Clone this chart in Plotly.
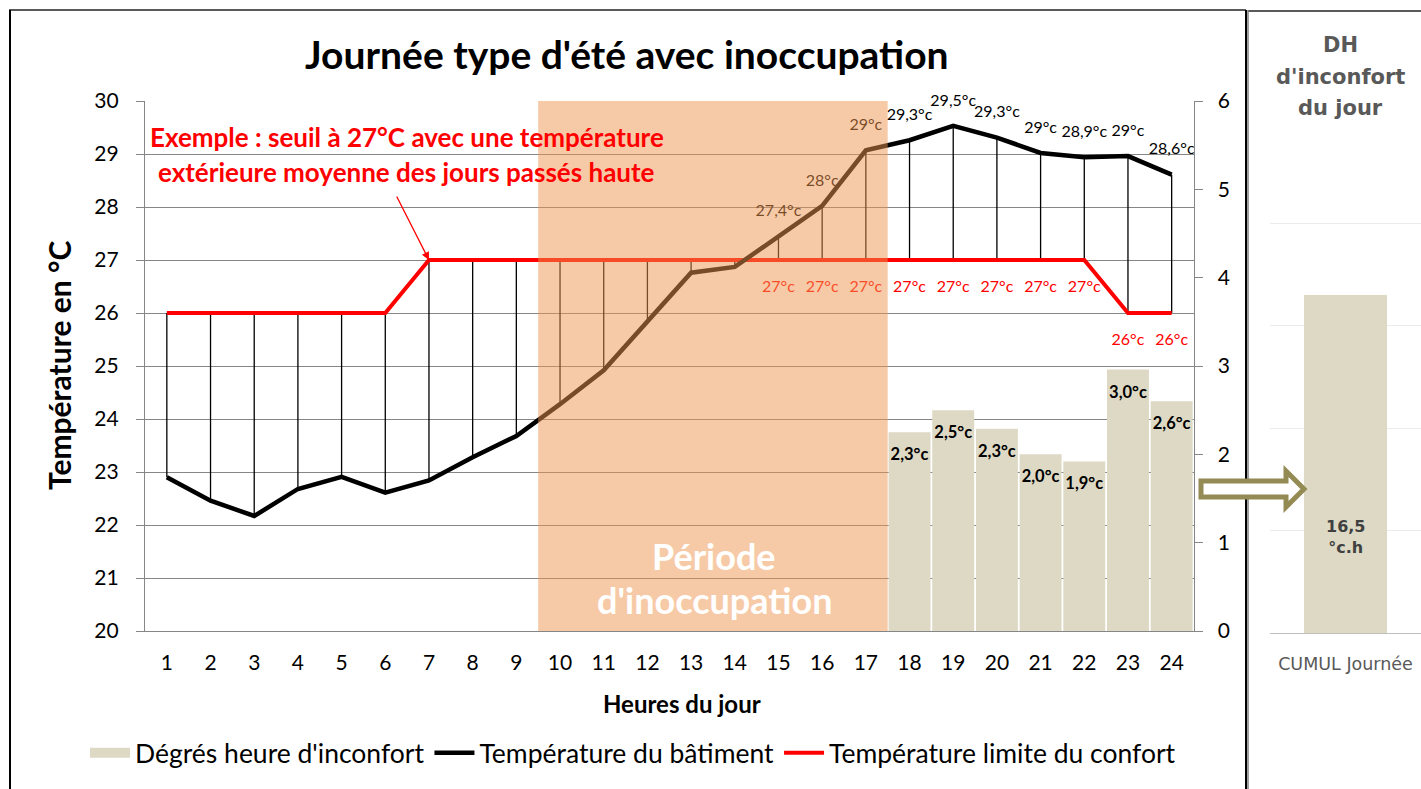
import plotly.graph_objects as go

# ---------------- data ----------------
heures = list(range(1, 25))
temp_batiment = [22.9, 22.46, 22.17, 22.68, 22.91, 22.61, 22.84, 23.28, 23.68, 24.28,
                 24.92, 25.84, 26.76, 26.87, 27.45, 28.02, 29.07, 29.26, 29.53, 29.31,
                 29.02, 28.94, 28.96, 28.61]
temp_limite = [26, 26, 26, 26, 26, 26, 27, 27, 27, 27, 27, 27, 27, 27, 27, 27, 27, 27,
               27, 27, 27, 27, 26, 26]
heures_dh = [18, 19, 20, 21, 22, 23, 24]
degres_heure = [2.25, 2.5, 2.29, 2.0, 1.92, 2.96, 2.6]
labels_dh = ["2,3°c", "2,5°c", "2,3°c", "2,0°c", "1,9°c", "3,0°c", "2,6°c"]
heures_labels = [15, 16, 17, 18, 19, 20, 21, 22, 23, 24]
labels_temp = ["27,4°c", "28°c", "29°c", "29,3°c", "29,5°c", "29,3°c", "29°c", "28,9°c",
               "29°c", "28,6°c"]
labels_limite = ["27°c", "27°c", "27°c", "27°c", "27°c", "27°c", "27°c", "27°c", "26°c", "26°c"]
periode_inoccupation = [10, 17]
cumul_categorie = ["CUMUL Journée"]
cumul_valeur = [16.5]
cumul_label = "16,5<br>°c.h"

W, H = 1421, 789
FONT = "Lato"
WIDE = "DejaVu Sans"
BAR_COLOR = "#DDD9C4"
def X(p):
    return p / W
def Y(p):
    return 1 - p / H

fig = go.Figure()

# drop lines between threshold and building temperature
dx, dy = [], []
for h, t, s in zip(heures, temp_batiment, temp_limite):
    dx += [h, h, None]
    dy += [s, t, None]
fig.add_trace(go.Scatter(x=dx, y=dy, mode="lines", line=dict(color="black", width=1.3),
                         showlegend=False, hoverinfo="skip"))

fig.add_trace(go.Bar(x=heures_dh, y=degres_heure, yaxis="y2", marker_color=BAR_COLOR,
                     marker_line_width=0, name="Dégrés heure d'inconfort", showlegend=False))
# legend entry for the bars (wide block symbol)
fig.add_trace(go.Scatter(x=[None], y=[None], mode="lines", line=dict(color=BAR_COLOR, width=18),
                         name="Dégrés heure d'inconfort", legendrank=1))
fig.add_trace(go.Scatter(x=[h for h in heures_dh], y=[v - 0.27 for v in degres_heure],
                         yaxis="y2", mode="text", text=labels_dh, cliponaxis=False,
                         textfont=dict(family=FONT, size=16.5, color="black", weight="bold"),
                         showlegend=False, hoverinfo="skip"))

fig.add_trace(go.Scatter(x=heures, y=temp_limite, mode="lines",
                         line=dict(color="#FF0000", width=4),
                         name="Température limite du confort", legendrank=3))
fig.add_trace(go.Scatter(x=heures, y=temp_batiment, mode="lines",
                         line=dict(color="black", width=4.5),
                         name="Température du bâtiment", legendrank=2))

idx = [heures.index(h) for h in heures_labels]
fig.add_trace(go.Scatter(x=heures_labels, y=[temp_batiment[i] + 0.46 for i in idx],
                         mode="text", text=labels_temp, cliponaxis=False,
                         textfont=dict(family=FONT, size=16, color="black"),
                         showlegend=False, hoverinfo="skip"))
fig.add_trace(go.Scatter(x=heures_labels, y=[temp_limite[i] - 0.53 for i in idx],
                         mode="text", text=labels_limite, cliponaxis=False,
                         textfont=dict(family=FONT, size=16, color="#FF0000"),
                         showlegend=False, hoverinfo="skip"))

# right panel
fig.add_trace(go.Bar(x=cumul_categorie, y=cumul_valeur, xaxis="x2", yaxis="y3",
                     marker_color=BAR_COLOR, marker_line_width=0, width=0.55,
                     showlegend=False))

tickfont = dict(family=FONT, size=21, color="black")
fig.update_layout(
    width=W, height=H, autosize=False,
    margin=dict(l=0, r=0, t=0, b=0, autoexpand=False),
    paper_bgcolor="white", plot_bgcolor="rgba(0,0,0,0)",
    font=dict(family=FONT, color="black"),
    bargap=0.04,
    xaxis=dict(domain=[X(145), X(1193.5)], range=[0.5, 24.5], tickmode="array",
               tickvals=heures, ticktext=[str(h) for h in heures], showgrid=False,
               showline=True, linecolor="#868686", linewidth=1.3, ticks="",
               tickfont=tickfont, ticklabelstandoff=13, zeroline=False, automargin=False),
    yaxis=dict(domain=[Y(631), Y(101)], range=[20, 30], dtick=1, showgrid=True,
               gridcolor="#868686", gridwidth=1.3, showline=True, linecolor="#868686",
               linewidth=1.3, ticks="outside", ticklen=8, tickcolor="#868686",
               tickfont=tickfont, ticklabelstandoff=13, zeroline=False, automargin=False),
    yaxis2=dict(overlaying="y", side="right", range=[0, 6], dtick=1, showgrid=False,
                showline=True, linecolor="#868686", linewidth=1.3, ticks="outside",
                ticklen=8, tickcolor="#868686", tickfont=tickfont, ticklabelstandoff=11,
                zeroline=False, automargin=False),
    xaxis2=dict(domain=[X(1270), 1.0], anchor="y3", showgrid=False, showline=True,
                linecolor="#BFBFBF", linewidth=1.3, ticks="",
                tickfont=dict(family=WIDE, size=17.5, color="#595959"),
                ticklabelstandoff=15, automargin=False),
    yaxis3=dict(domain=[Y(633), Y(121)], anchor="x2", range=[0, 25], dtick=5,
                showgrid=True, gridcolor="#EBEBEB", gridwidth=1, showticklabels=False,
                zeroline=False, showline=False, automargin=False),
    legend=dict(orientation="h", x=X(633), xanchor="center", y=Y(753), yanchor="middle",
                font=dict(family=FONT, size=26.5, color="black"), traceorder="normal",
                bgcolor="rgba(0,0,0,0)", itemwidth=40),
    showlegend=True,
)

x0 = periode_inoccupation[0] - 0.5
x1 = periode_inoccupation[1] + 0.5
shapes = [
    dict(type="rect", xref="x", yref="y", x0=x0, x1=x1, y0=20, y1=30,
         fillcolor="#F09650", opacity=0.5, line=dict(width=0), layer="above"),
    # borders
    dict(type="line", xref="paper", yref="paper", x0=X(9), x1=X(1246), y0=Y(10), y1=Y(10),
         line=dict(color="#595959", width=2)),
    dict(type="line", xref="paper", yref="paper", x0=X(1248), x1=1, y0=Y(11), y1=Y(11),
         line=dict(color="#595959", width=2)),
    dict(type="line", xref="paper", yref="paper", x0=X(10), x1=X(10), y0=Y(10), y1=0,
         line=dict(color="black", width=2)),
    dict(type="line", xref="paper", yref="paper", x0=X(1246), x1=X(1246), y0=Y(10), y1=0,
         line=dict(color="black", width=2)),
    dict(type="line", xref="paper", yref="paper", x0=X(1248), x1=X(1248), y0=Y(10), y1=0,
         line=dict(color="#7F7F7F", width=1.5)),
]
# hollow block arrow
pts = [(1201, 481), (1286, 481), (1286, 471), (1304, 489), (1286, 507), (1286, 497), (1201, 497)]
path = "M " + " L ".join(f"{X(a):.5f},{Y(b):.5f}" for a, b in pts) + " Z"
shapes.append(dict(type="path", xref="paper", yref="paper", path=path, fillcolor="white",
                   line=dict(color="#948A54", width=5), layer="above"))
fig.update_layout(shapes=shapes)

ann = [
    dict(text="<b>Journée type d'été avec inoccupation</b>", x=X(627), y=Y(54),
         font=dict(size=39, color="black", family=FONT)),
    dict(text="<b>Exemple : seuil à 27°C avec une température</b>", x=X(407), y=Y(137),
         font=dict(size=26, color="#FF0000", family=FONT)),
    dict(text="<b>extérieure moyenne des jours passés haute</b>", x=X(407), y=Y(172),
         font=dict(size=26, color="#FF0000", family=FONT)),
    dict(text="<b>Température en °C</b>", x=X(59), y=Y(366), textangle=-90,
         font=dict(size=30, color="black", family=FONT)),
    dict(text="<b>Heures du jour</b>", x=X(682), y=Y(703),
         font=dict(size=24, color="black", family=FONT)),
    dict(text="<b>Période</b>", x=X(714), y=Y(556),
         font=dict(size=36, color="white", family=FONT)),
    dict(text="<b>d'inoccupation</b>", x=X(714), y=Y(600),
         font=dict(size=36, color="white", family=FONT)),
    dict(text="<b>DH</b>", x=X(1340), y=Y(45), font=dict(size=21, color="#595959", family=WIDE)),
    dict(text="<b>d'inconfort</b>", x=X(1340), y=Y(77), font=dict(size=21, color="#595959", family=WIDE)),
    dict(text="<b>du jour</b>", x=X(1340), y=Y(108), font=dict(size=21, color="#595959", family=WIDE)),
]
for a in ann:
    a.update(xref="paper", yref="paper", showarrow=False, xanchor="center", yanchor="middle")
ann.append(dict(text="<b>" + cumul_label + "</b>", xref="x2", yref="y3", x=cumul_categorie[0],
                y=4.7, showarrow=False, font=dict(size=16, color="#404040", family=WIDE)))
ann.append(dict(text="", x=7, y=27, xref="x", yref="y", showarrow=True, ax=-33, ay=-65,
                axref="pixel", ayref="pixel", arrowhead=2, arrowsize=1.2, arrowwidth=1.3,
                arrowcolor="#FF0000", standoff=0))
fig.update_layout(annotations=ann)

fig.write_html("out.html", config={"displayModeBar": False},
               post_script="document.body.style.margin='0';document.body.style.overflow='hidden';")
